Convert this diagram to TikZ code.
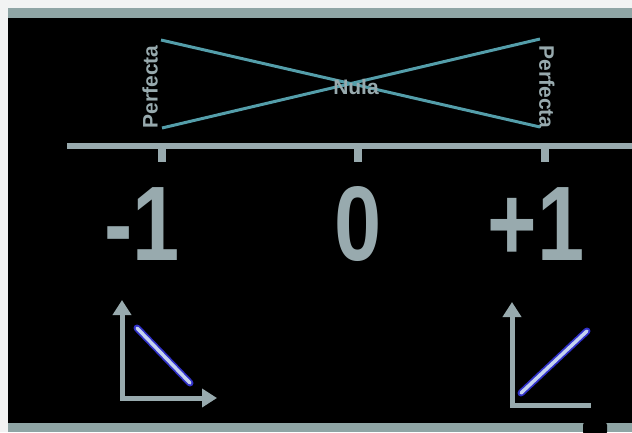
\documentclass[tikz,border=0pt]{standalone}
\usepackage{fontspec}
\setmainfont{Liberation Sans}
\usetikzlibrary{arrows.meta}
\definecolor{papel}{RGB}{242,243,243}
\definecolor{marco}{RGB}{143,165,165}
\definecolor{gris}{RGB}{152,170,174}
\definecolor{turquesa}{RGB}{84,158,170}
\definecolor{azul}{RGB}{48,48,200}
\definecolor{celeste}{RGB}{196,210,240}
\begin{document}
\begin{tikzpicture}[x=1pt, y=-1pt,
    eje/.style={line width=6pt, gris},
    marca/.style={line width=8pt, gris},
    numero/.style={gris, anchor=base, inner sep=0pt, xscale=0.8, font=\fontsize{106}{106}\selectfont\bfseries},
    etiqueta/.style={gris, inner sep=0pt, font=\fontsize{21}{21}\selectfont\bfseries},
    lazo/.style={turquesa, line width=3pt},
    ejes/.style={line width=5pt, gris, line join=miter},
    punta/.style={Triangle[length=15pt,width=18pt]},
    recta/.style={line width=7pt, azul, line cap=round}]
    \useasboundingbox (0,0) rectangle (632,432);

    % 背景与边框
    \fill[papel] (0,0) rectangle (632,432);
    \fill[marco] (8,8) rectangle (632,18);
    \fill[black] (8,18) rectangle (632,423);
    \fill[marco] (8,423) rectangle (632,432);

    % 数轴
    \draw[eje] (67,146) -- (632,146);
    \foreach \x in {162,358,545}
        \draw[marca] (\x,148) -- (\x,162);
    \node[numero] (menos) at (142,260) {-1};
    \node[numero] (cero) at (358,260) {0};
    \node[numero] (mas) at (536,260) {+1};

    % 蝴蝶结
    \node[etiqueta, rotate=90] (perfI) at (150,87) {Perfecta};
    \node[etiqueta, rotate=-90] (perfD) at (547,87) {Perfecta};
    \coordinate (it) at (161,40);
    \coordinate (ib) at (162,128);
    \coordinate (dt) at (540,39);
    \coordinate (db) at (540,127);
    \draw[lazo] (it) -- (db);
    \draw[lazo] (ib) -- (dt);
    \node[etiqueta] (nula) at (356,87) {Nula};

    % 左边小图：负相关
    \draw[ejes, {Triangle[length=15pt,width=18pt]}-{Triangle[length=15pt,width=18pt]}]
        (122,300) -- (122,398) -- (217,398);
    \coordinate (nA) at (137,328);
    \coordinate (nB) at (190,383);
    \draw[recta] (nA) -- (nB);
    \draw[recta, celeste, line width=3.5pt] (nA) -- (nB);

    % 右边小图：正相关
    \draw[ejes, {Triangle[length=15pt,width=18pt]}-]
        (512,302) -- (512,405) -- (591,405);
    \coordinate (pA) at (521,393);
    \coordinate (pB) at (587,331);
    \draw[recta] (pA) -- (pB);
    \draw[recta, celeste, line width=3.5pt] (pA) -- (pB);

    % 右下角
    \fill[black, rounded corners=4pt] (583,421) rectangle (607,436);
\end{tikzpicture}
\end{document}
